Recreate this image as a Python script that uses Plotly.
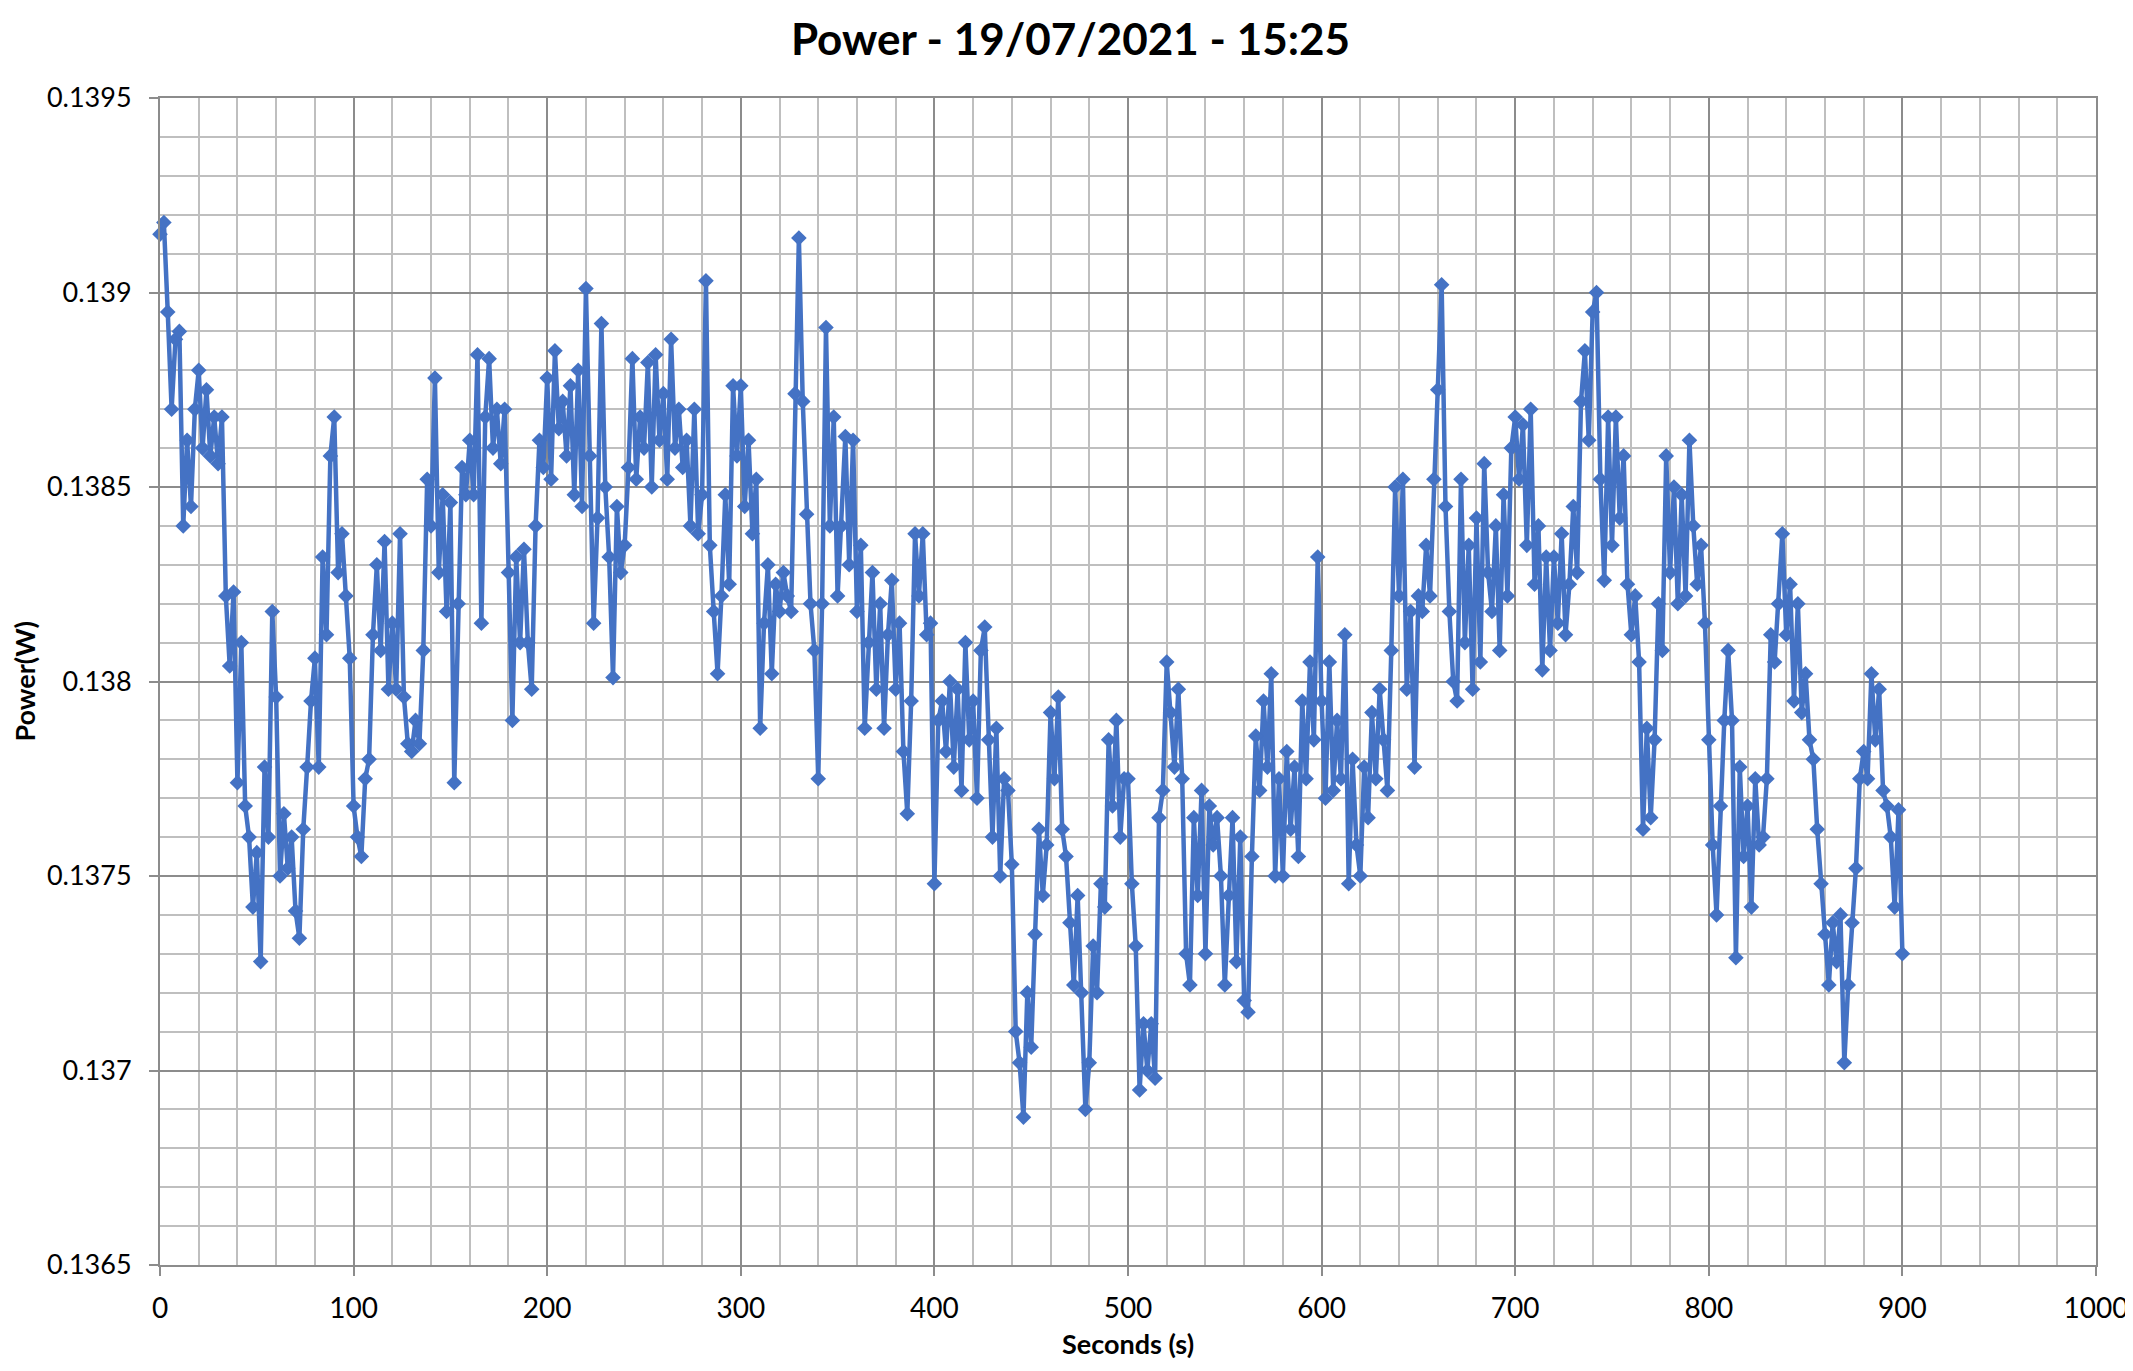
import plotly.graph_objects as go

# sample time in seconds (logger recorded every 2 s)
seconds = list(range(0, 902, 2))

# power readings in W
power_w = [
    0.13915, 0.13918, 0.13895, 0.13870, 0.13888,
    0.13890, 0.13840, 0.13862, 0.13845, 0.13870,
    0.13880, 0.13860, 0.13875, 0.13858, 0.13868,
    0.13856, 0.13868, 0.13822, 0.13804, 0.13823,
    0.13774, 0.13810, 0.13768, 0.13760, 0.13742,
    0.13756, 0.13728, 0.13778, 0.13760, 0.13818,
    0.13796, 0.13750, 0.13766, 0.13752, 0.13760,
    0.13741, 0.13734, 0.13762, 0.13778, 0.13795,
    0.13806, 0.13778, 0.13832, 0.13812, 0.13858,
    0.13868, 0.13828, 0.13838, 0.13822, 0.13806,
    0.13768, 0.13760, 0.13755, 0.13775, 0.13780,
    0.13812, 0.13830, 0.13808, 0.13836, 0.13798,
    0.13815, 0.13798, 0.13838, 0.13796, 0.13784,
    0.13782, 0.13790, 0.13784, 0.13808, 0.13852,
    0.13840, 0.13878, 0.13828, 0.13848, 0.13818,
    0.13846, 0.13774, 0.13820, 0.13855, 0.13848,
    0.13862, 0.13848, 0.13884, 0.13815, 0.13868,
    0.13883, 0.13860, 0.13870, 0.13856, 0.13870,
    0.13828, 0.13790, 0.13832, 0.13810, 0.13834,
    0.13810, 0.13798, 0.13840, 0.13862, 0.13855,
    0.13878, 0.13852, 0.13885, 0.13865, 0.13872,
    0.13858, 0.13876, 0.13848, 0.13880, 0.13845,
    0.13901, 0.13858, 0.13815, 0.13842, 0.13892,
    0.13850, 0.13832, 0.13801, 0.13845, 0.13828,
    0.13835, 0.13855, 0.13883, 0.13852, 0.13868,
    0.13860, 0.13882, 0.13850, 0.13884, 0.13862,
    0.13874, 0.13852, 0.13888, 0.13860, 0.13870,
    0.13855, 0.13862, 0.13840, 0.13870, 0.13838,
    0.13848, 0.13903, 0.13835, 0.13818, 0.13802,
    0.13822, 0.13848, 0.13825, 0.13876, 0.13858,
    0.13876, 0.13845, 0.13862, 0.13838, 0.13852,
    0.13788, 0.13815, 0.13830, 0.13802, 0.13825,
    0.13818, 0.13828, 0.13822, 0.13818, 0.13874,
    0.13914, 0.13872, 0.13843, 0.13820, 0.13808,
    0.13775, 0.13820, 0.13891, 0.13840, 0.13868,
    0.13822, 0.13840, 0.13863, 0.13830, 0.13862,
    0.13818, 0.13835, 0.13788, 0.13810, 0.13828,
    0.13798, 0.13820, 0.13788, 0.13812, 0.13826,
    0.13798, 0.13815, 0.13782, 0.13766, 0.13795,
    0.13838, 0.13822, 0.13838, 0.13812, 0.13815,
    0.13748, 0.13790, 0.13795, 0.13782, 0.13800,
    0.13778, 0.13798, 0.13772, 0.13810, 0.13785,
    0.13795, 0.13770, 0.13808, 0.13814, 0.13785,
    0.13760, 0.13788, 0.13750, 0.13775, 0.13772,
    0.13753, 0.13710, 0.13702, 0.13688, 0.13720,
    0.13706, 0.13735, 0.13762, 0.13745, 0.13758,
    0.13792, 0.13775, 0.13796, 0.13762, 0.13755,
    0.13738, 0.13722, 0.13745, 0.13720, 0.13690,
    0.13702, 0.13732, 0.13720, 0.13748, 0.13742,
    0.13785, 0.13768, 0.13790, 0.13760, 0.13775,
    0.13775, 0.13748, 0.13732, 0.13695, 0.13712,
    0.13700, 0.13712, 0.13698, 0.13765, 0.13772,
    0.13805, 0.13792, 0.13778, 0.13798, 0.13775,
    0.13730, 0.13722, 0.13765, 0.13745, 0.13772,
    0.13730, 0.13768, 0.13758, 0.13765, 0.13750,
    0.13722, 0.13745, 0.13765, 0.13728, 0.13760,
    0.13718, 0.13715, 0.13755, 0.13786, 0.13772,
    0.13795, 0.13778, 0.13802, 0.13750, 0.13775,
    0.13750, 0.13782, 0.13762, 0.13778, 0.13755,
    0.13795, 0.13775, 0.13805, 0.13785, 0.13832,
    0.13795, 0.13770, 0.13805, 0.13772, 0.13790,
    0.13775, 0.13812, 0.13748, 0.13780, 0.13758,
    0.13750, 0.13778, 0.13765, 0.13792, 0.13775,
    0.13798, 0.13785, 0.13772, 0.13808, 0.13850,
    0.13822, 0.13852, 0.13798, 0.13818, 0.13778,
    0.13822, 0.13818, 0.13835, 0.13822, 0.13852,
    0.13875, 0.13902, 0.13845, 0.13818, 0.13800,
    0.13795, 0.13852, 0.13810, 0.13835, 0.13798,
    0.13842, 0.13805, 0.13856, 0.13828, 0.13818,
    0.13840, 0.13808, 0.13848, 0.13822, 0.13860,
    0.13868, 0.13852, 0.13866, 0.13835, 0.13870,
    0.13825, 0.13840, 0.13803, 0.13832, 0.13808,
    0.13832, 0.13815, 0.13838, 0.13812, 0.13825,
    0.13845, 0.13828, 0.13872, 0.13885, 0.13862,
    0.13895, 0.13900, 0.13852, 0.13826, 0.13868,
    0.13835, 0.13868, 0.13842, 0.13858, 0.13825,
    0.13812, 0.13822, 0.13805, 0.13762, 0.13788,
    0.13765, 0.13785, 0.13820, 0.13808, 0.13858,
    0.13828, 0.13850, 0.13820, 0.13848, 0.13822,
    0.13862, 0.13840, 0.13825, 0.13835, 0.13815,
    0.13785, 0.13758, 0.13740, 0.13768, 0.13790,
    0.13808, 0.13790, 0.13729, 0.13778, 0.13755,
    0.13768, 0.13742, 0.13775, 0.13758, 0.13760,
    0.13775, 0.13812, 0.13805, 0.13820, 0.13838,
    0.13812, 0.13825, 0.13795, 0.13820, 0.13792,
    0.13802, 0.13785, 0.13780, 0.13762, 0.13748,
    0.13735, 0.13722, 0.13738, 0.13728, 0.13740,
    0.13702, 0.13722, 0.13738, 0.13752, 0.13775,
    0.13782, 0.13775, 0.13802, 0.13785, 0.13798,
    0.13772, 0.13768, 0.13760, 0.13742, 0.13767,
    0.13730,
]

blue = '#4472C4'
major_grid = '#8C8C8C'
minor_grid = '#BFBFBF'
font_family = 'Lato, "Open Sans", sans-serif'

fig = go.Figure()
fig.add_trace(go.Scatter(
    x=seconds,
    y=power_w,
    mode='lines+markers',
    line=dict(color=blue, width=4.5),
    marker=dict(symbol='diamond', size=12, color=blue),
    cliponaxis=False,
    showlegend=False
))

axis_style = dict(
    showgrid=True,
    gridcolor=major_grid,
    gridwidth=2,
    showline=True,
    linecolor=major_grid,
    linewidth=2,
    mirror=True,
    ticks='outside',
    ticklen=9,
    tickwidth=2,
    tickcolor=major_grid,
    zeroline=False,
    automargin=False,
    ticklabeloverflow='allow',
)

# page body has an 8px default margin, so the figure is shifted by 8px
fig.update_layout(
    width=2125,
    height=1355,
    paper_bgcolor='white',
    plot_bgcolor='white',
    margin=dict(l=152, r=37, t=90, b=98),
    font=dict(family=font_family, color='black'),
    title=dict(
        text='<b>Power - 19/07/2021 - 15:25</b>',
        x=0.5, xref='container', xanchor='center',
        y=1 - 16 / 1355, yref='container', yanchor='top',
        pad=dict(t=0, b=0),
        font=dict(size=44, color='black', family=font_family)
    ),
    xaxis=dict(
        range=[0, 1000],
        dtick=100,
        tick0=0,
        ticklabelstandoff=8,
        tickfont=dict(size=28, color='black'),
        minor=dict(dtick=20, showgrid=True, gridcolor=minor_grid, gridwidth=2),
        **axis_style
    ),
    yaxis=dict(
        range=[0.1365, 0.1395],
        dtick=0.0005,
        tick0=0.1365,
        tickformat='.4~g',
        ticklabelstandoff=12,
        tickfont=dict(size=27, color='black'),
        minor=dict(dtick=0.0001, showgrid=True, gridcolor=minor_grid, gridwidth=2),
        **axis_style
    ),
    annotations=[
        dict(text='<b>Seconds (s)</b>', xref='paper', yref='paper', x=0.5, y=0,
             xanchor='center', yanchor='bottom', yshift=-97, showarrow=False,
             font=dict(size=27, color='black')),
        dict(text='<b>Power(W)</b>', xref='paper', yref='paper', x=0, y=0.5,
             xanchor='center', yanchor='middle', xshift=-136, textangle=-90,
             showarrow=False, font=dict(size=27, color='black')),
    ]
)

fig.write_html('out.html')
